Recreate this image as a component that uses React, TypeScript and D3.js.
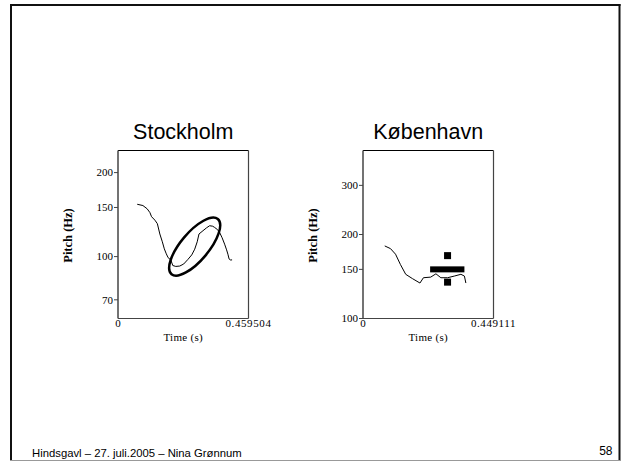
import React from "react";
import * as d3 from "d3";

const stockholmTime = [0.0677,0.0877,0.1028,0.1123,0.1182,0.1298,0.1386,0.1473,0.1561,0.1631,0.1701,0.1765,0.1859,0.1929,0.2035,0.2175,0.2315,0.2466,0.2596,0.2701,0.2789,0.2852,0.2992,0.3122,0.3227,0.3333,0.3403,0.3508,0.3578,0.3666,0.3754,0.3824,0.3870,0.3911,0.3953,0.4017];
const stockholmPitch = [154.0,152.4,148.3,143.8,139.0,135.1,131.2,120.5,113.0,106.6,102.3,99.1,97.3,92.9,92.2,92.5,94.1,97.8,101.4,106.3,113.0,120.5,123.8,126.9,129.0,128.5,127.2,124.8,122.0,116.8,110.8,105.7,102.0,98.1,97.3,97.3];
const stockholmTicks = [70, 100, 150, 200];
const stockholmDomain = [60, 240];
const stockholmEnd = 0.459504;

const copenhagenTime = [0.0748,0.0946,0.112,0.129,0.147,0.170,0.196,0.208,0.233,0.251,0.268,0.291,0.314,0.337,0.349,0.354];
const copenhagenPitch = [182,178,170,156,144,139,134,140,140.7,144.6,140,140,141.9,144,141.9,134];
const copenhagenTicks = [100, 150, 200, 300];
const copenhagenDomain = [100, 400];
const copenhagenEnd = 0.449111;

// annotation: target bar and range squares (København)
const barStart = 0.231, barEnd = 0.349, barPitch = 150;
const squareTime = 0.291;
const squarePitches = [168, 135];
// annotation: ellipse (Stockholm)
const ellipseTime = 0.270, ellipsePitch = 108.6;

const serif = "'Liberation Serif', 'Times New Roman', serif";
const sans = "'Liberation Sans', Arial, sans-serif";

function Panel({ x0, title, times, pitches, ticks, domain, end, children }: any) {
  const w = 130.5, top = 150.5, h = 168;
  const x = d3.scaleLinear().domain([0, end]).range([x0, x0 + w]);
  const y = d3.scaleLog().domain(domain).range([top + h, top]);
  const pts = times.map((t: number, i: number) => [t, pitches[i]]);
  const line = d3.line<any>().x(d => x(d[0])).y(d => y(d[1]));
  const cx = x0 + w / 2;
  return (
    <g>
      <text x={cx} y={139} textAnchor="middle" fontFamily={sans} fontSize={21.5}>{title}</text>
      <line x1={x0} x2={x0 + w} y1={top} y2={top} stroke="#000" strokeWidth={1} />
      <line x1={x0 + w} x2={x0 + w} y1={top} y2={top + h} stroke="#444" strokeWidth={1.2} />
      <line x1={x0} x2={x0 + w} y1={top + h} y2={top + h} stroke="#444" strokeWidth={1.2} />
      <line x1={x0} x2={x0} y1={top} y2={top + h} stroke="#444" strokeWidth={1.5} />
      {ticks.map((t: number) => (
        <g key={t}>
          <line x1={x0 - 4} x2={x0} y1={y(t)} y2={y(t)} stroke="#444" strokeWidth={1} />
          <text x={x0 - 5} y={y(t)} dy="0.35em" textAnchor="end" fontFamily={serif} fontSize={11}>{t}</text>
        </g>
      ))}
      <text x={x(0)} y={327} textAnchor="middle" fontFamily={serif} fontSize={11}>0</text>
      <text x={x(end)} y={327} textAnchor="middle" fontFamily={serif} fontSize={11} letterSpacing={0.6}>{String(end)}</text>
      <text x={cx} y={341} textAnchor="middle" fontFamily={serif} fontSize={11} letterSpacing={0.3}>Time (s)</text>
      <text transform={`translate(${x0 - 46},${top + h / 2 + 1}) rotate(-90)`} textAnchor="middle" fontFamily={serif} fontWeight="bold" fontSize={12.5}>Pitch (Hz)</text>
      <path d={line(pts) || ""} fill="none" stroke="#000" strokeWidth={1} />
      {children && children(x, y)}
    </g>
  );
}

export default function App() {
  return (
    <svg width={624} height={461} style={{ position: "absolute", left: 0, top: 0, background: "#fff" }}>
      <rect x={0} y={0} width={624} height={461} fill="#fff" />
      <line x1={11} x2={11} y1={4} y2={461} stroke="#111" strokeWidth={2} />
      <line x1={10} x2={620.5} y1={5} y2={5} stroke="#111" strokeWidth={2} />
      <line x1={619.5} x2={619.5} y1={4} y2={461} stroke="#111" strokeWidth={2} />
      <line x1={10} x2={621} y1={460.5} y2={460.5} stroke="#999" strokeWidth={1} />
      <Panel x0={118} title="Stockholm" times={stockholmTime} pitches={stockholmPitch} ticks={stockholmTicks} domain={stockholmDomain} end={stockholmEnd}>
        {(x: any, y: any) => (
          <ellipse cx={0} cy={0} rx={36} ry={14} fill="none" stroke="#000" strokeWidth={2.5}
            transform={`translate(${x(ellipseTime)},${y(ellipsePitch)}) rotate(-50)`} />
        )}
      </Panel>
      <Panel x0={363} title="København" times={copenhagenTime} pitches={copenhagenPitch} ticks={copenhagenTicks} domain={copenhagenDomain} end={copenhagenEnd}>
        {(x: any, y: any) => (
          <g>
            <rect x={x(barStart)} y={y(barPitch) - 3} width={x(barEnd) - x(barStart)} height={6} fill="#000" />
            {squarePitches.map(p => (
              <rect key={p} x={x(squareTime) - 3.5} y={y(p) - 3.5} width={7} height={7} fill="#000" />
            ))}
          </g>
        )}
      </Panel>
      <text x={32} y={457} fontFamily={sans} fontSize={11.3}>Hindsgavl – 27. juli.2005 – Nina Grønnum</text>
      <text x={612.5} y={454.5} textAnchor="end" fontFamily={sans} fontSize={12}>58</text>
    </svg>
  );
}
